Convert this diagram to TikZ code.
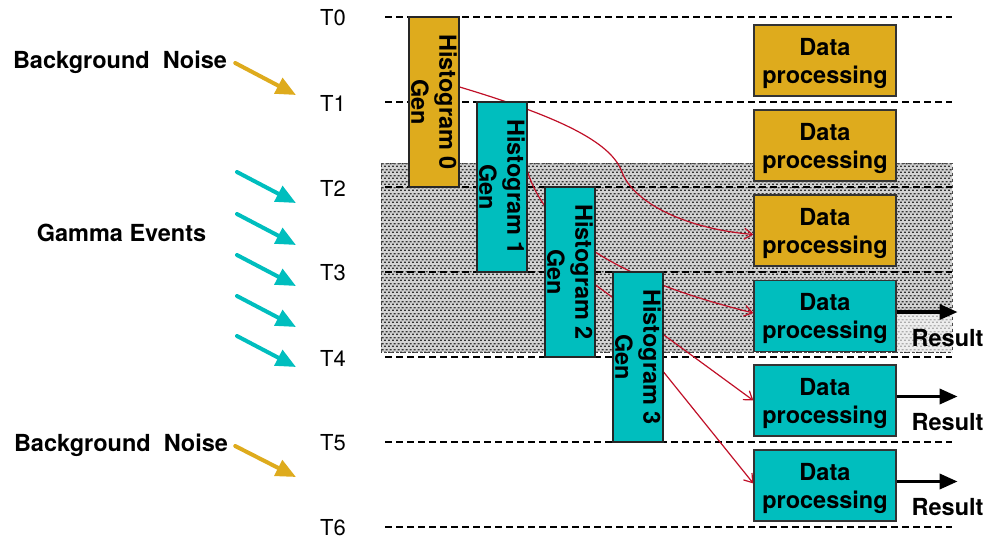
\documentclass[tikz,border=0pt]{standalone}
\usepackage{fontspec}
\setmainfont{TeX Gyre Heros}
\usetikzlibrary{arrows.meta,calc,patterns}
\definecolor{gold}{RGB}{222,171,29}
\definecolor{aqua}{RGB}{0,190,190}
\definecolor{linkred}{RGB}{192,16,40}
\pgfdeclarelayer{bg}
\pgfdeclarelayer{mid}
\pgfsetlayers{bg,mid,main}
% fine staggered texture for the busy window
\pgfdeclarepatternformonly{weave}{\pgfpointorigin}{\pgfqpoint{4pt}{6pt}}{\pgfqpoint{4pt}{6pt}}{%
  \pgfpathrectangle{\pgfqpoint{0pt}{0pt}}{\pgfqpoint{2.4pt}{1.5pt}}%
  \pgfpathrectangle{\pgfqpoint{2pt}{3pt}}{\pgfqpoint{2.4pt}{1.5pt}}%
  \pgfusepath{fill}}

\begin{document}
\begin{tikzpicture}[x=1pt,y=-1pt,
  every node/.style={font=\fontsize{23.5}{28}\selectfont\bfseries},
  tlabel/.style={font=\fontsize{22}{26}\selectfont, inner sep=0pt},
  plain/.style={inner sep=0pt},
  timeline/.style={line width=1.3pt, dash pattern=on 7pt off 4pt},
  histbox/.style={draw=black!85, line width=1.2pt, rotate=-90,
    minimum width=170pt, minimum height=50pt, align=center, inner sep=0pt},
  procbox/.style={draw=black!80, line width=1.2pt, minimum width=142pt,
    minimum height=71pt, align=center, inner sep=0pt, text depth=0pt},
  link/.style={linkred, line width=1.2pt, -{Straight Barb[length=8pt,width=11pt]}},
  resarrow/.style={line width=3.5pt, -{Triangle[length=18pt,width=15pt]}},
  inarrow/.style={line width=4pt, line cap=round, -{Triangle[length=20pt,width=17pt]}},
]
\useasboundingbox (0,0) rectangle (989,539);

% shaded time window T2..T4
\begin{pgfonlayer}{bg}
  \fill[gray!35] (381,163) rectangle (952,352);
  \fill[pattern=weave, pattern color=black!80] (381,163) rectangle (952,352);
  \draw[line width=1pt, dash pattern=on 3pt off 3pt, black!70] (381,163) rectangle (952,352);
  \fill[white, opacity=0.6] (897,313) rectangle (952,352);
  % time lines
  \foreach \k in {0,...,6}
    \draw[timeline] (385,17+85*\k) -- (952,17+85*\k);
\end{pgfonlayer}

% time labels
\foreach \k in {0,...,6}
  \node[tlabel] (t\k) at (333,18+85*\k) {T\k};

% histogram generation blocks
\node[histbox, fill=gold] (h0) at (434,102) {Histogram 0\\Gen};
\node[histbox, fill=aqua] (h1) at (502,187) {Histogram 1\\Gen};
\node[histbox, fill=aqua] (h2) at (570,272) {Histogram 2\\Gen};
\node[histbox, fill=aqua] (h3) at (638,357) {Histogram 3\\Gen};

% data processing blocks
\node[procbox, fill=gold] (d0) at (825,60.5) {Data\\processing};
\node[procbox, fill=gold] (d1) at (825,145.5) {Data\\processing};
\node[procbox, fill=gold] (d2) at (825,230.5) {Data\\processing};
\node[procbox, fill=aqua] (d3) at (825,316) {Data\\processing};
\node[procbox, fill=aqua] (d4) at (825,400.5) {Data\\processing};
\node[procbox, fill=aqua] (d5) at (825,485.5) {Data\\processing};

% histogram hand-off links
\begin{pgfonlayer}{mid}
  \draw[link] ($(h0.north)+(0,-15)$) .. controls (570,120) and (612,145) .. (622,172)
        .. controls (632,200) and (680,228) .. ($(d2.west)+(0,4)$);
  \draw[link] ($(h1.north)+(0,-15)$) .. controls (545,225) and (600,275) .. ($(d3.west)+(0,-3)$);
  \draw[link] ($(h2.north)+(0,13)$) -- ($(d4.west)+(0,0)$);
  \draw[link] ($(h3.north)+(0,15)$) -- ($(d5.west)+(0,-2)$);
\end{pgfonlayer}

% results
\foreach \i in {3,4,5} {
  \draw[resarrow] ($(d\i.east)+(0,-4)$) -- ++(61,0) coordinate (r\i);
  \node[plain] (res\i) at ($(r\i)+(-10,26)$) {Result};
}

% incoming events
\node[plain] (bn1) at (120,62) {Background\hspace{13pt}Noise};
\node[plain] (bn2) at (121,445) {Background\hspace{13pt}Noise};
\node[plain] (ge) at (121.5,233) {Gamma Events};
\coordinate (n1) at (296,95);
\coordinate (n2) at (296,477);
\draw[inarrow, gold] ($(bn1.east)+(8,1)$) -- (n1);
\draw[inarrow, gold] ($(bn2.east)+(7,1)$) -- (n2);
\foreach \y [count=\j] in {172,214,255,296,336} {
  \coordinate (gs\j) at (237,\y);
  \coordinate (ge\j) at (296,\y+31);
  \draw[inarrow, aqua] (gs\j) -- (ge\j);
}
\end{tikzpicture}
\end{document}
